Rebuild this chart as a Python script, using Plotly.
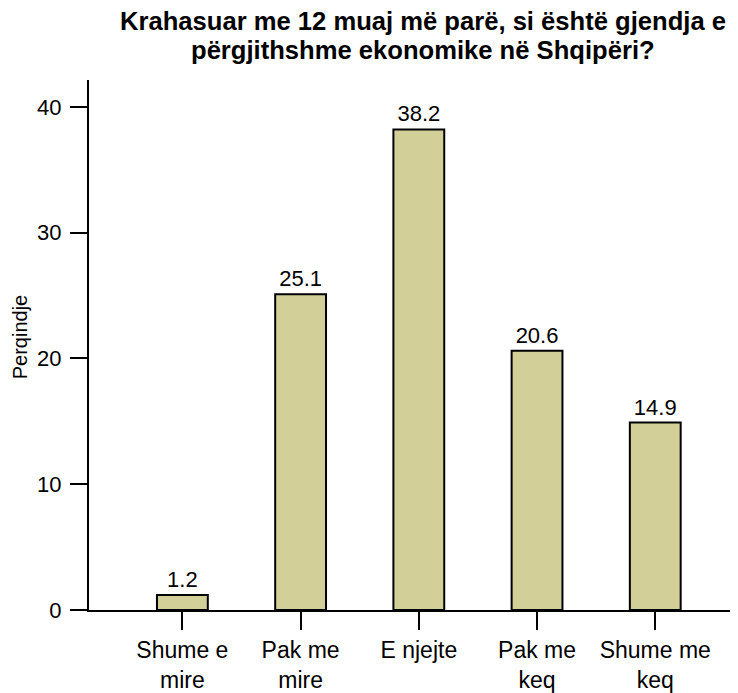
import plotly.graph_objects as go

categories = ["Shume e<br>mire", "Pak me<br>mire", "E njejte", "Pak me<br>keq", "Shume me<br>keq"]
values = [1.2, 25.1, 38.2, 20.6, 14.9]
y_ticks = [0, 10, 20, 30, 40]
title_lines = ["Krahasuar me 12 muaj më parë, si është gjendja e",
               "përgjithshme ekonomike në Shqipëri?"]
y_title = "Perqindje"

FONT = "Liberation Sans, Arial, sans-serif"

fig = go.Figure(go.Bar(
    x=list(range(len(categories))),
    y=values,
    width=0.43,
    marker=dict(color="#d3cf99", line=dict(color="black", width=2)),
    text=[f"{v:.1f}" for v in values],
    textposition="outside",
    textfont=dict(size=22, color="black", family=FONT),
    cliponaxis=False,
))

fig.update_layout(
    width=738, height=693,
    margin=dict(l=81, r=8, t=72, b=87),
    paper_bgcolor="white", plot_bgcolor="white",
    font=dict(family=FONT, color="black", size=22),
    showlegend=False,
)
for line, yy in zip(title_lines, [1.1105, 1.057]):
    fig.add_annotation(
        text=f"<b>{line}</b>", xref="paper", yref="paper",
        x=0.514, y=yy, xanchor="center", yanchor="middle",
        showarrow=False, font=dict(size=25.6, color="black", family=FONT),
    )
fig.add_annotation(
    text=y_title, xref="paper", yref="paper",
    x=-0.106, y=0.515, xanchor="center", yanchor="middle",
    textangle=-90, showarrow=False,
    font=dict(size=20, color="black", family=FONT),
)
fig.update_xaxes(
    range=[-0.79, 4.7],
    tickmode="array", tickvals=list(range(len(categories))), ticktext=categories,
    showline=True, linecolor="black", linewidth=2,
    ticks="outside", ticklen=18, tickwidth=2, tickcolor="black",
    showgrid=False, zeroline=False,
    tickfont=dict(size=23),
)
fig.update_yaxes(
    range=[0, 42.13],
    tickmode="array", tickvals=y_ticks,
    showline=True, linecolor="black", linewidth=2,
    ticks="outside", ticklen=17, tickwidth=2, tickcolor="black",
    showgrid=False, zeroline=False,
    tickfont=dict(size=22),
    ticklabelstandoff=4,
)

fig.write_html("out.html")
